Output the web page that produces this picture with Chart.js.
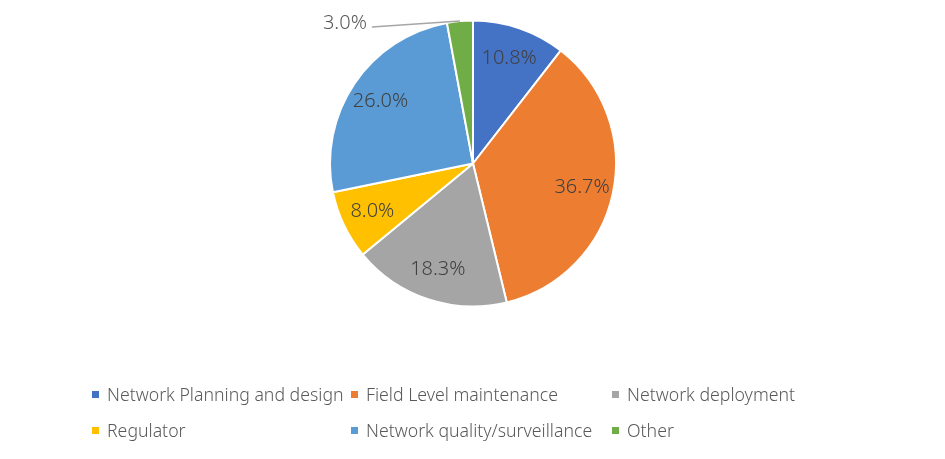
<!DOCTYPE html>
<html>
<head>
<meta charset="utf-8">
<script src="https://cdn.jsdelivr.net/npm/chart.js@4"></script>
<style>
  html, body { margin: 0; padding: 0; background: #fff; }
  #wrap { position: relative; width: 945px; height: 459px; }
  #legend {
    position: absolute; left: 92px; top: 381px;
    display: grid; grid-template-columns: 259px 261px auto;
    row-gap: 10px;
    font-family: "Noto Sans", sans-serif; font-weight: 300;
    font-size: 17.7px; color: #595959;
  }
  .item { display: flex; align-items: center; height: 26px; white-space: nowrap; }
  .box { width: 7px; height: 7px; margin-right: 8px; flex: none; }
</style>
</head>
<body>
<div id="wrap">
  <canvas id="pie" width="945" height="459"></canvas>
  <div id="legend"></div>
</div>
<script>
// chart data
const categories = ["Network Planning and design", "Field Level maintenance", "Network deployment",
                    "Regulator", "Network quality/surveillance", "Other"];
const shares = [10.8, 36.7, 18.3, 8.0, 26.0, 3.0];
const colors = ["#4472C4", "#ED7D31", "#A5A5A5", "#FFC000", "#5B9BD5", "#70AD47"];

// legend, built from the same arrays
const legendEl = document.getElementById("legend");
categories.forEach((name, i) => {
    const item = document.createElement("div");
    item.className = "item";
    item.innerHTML = '<span class="box" style="background:' + colors[i] + '"></span>' + name;
    legendEl.appendChild(item);
});

// draws the percent labels, small slices get a leader line outside
const pctLabels = {
    id: "pctLabels",
    afterDatasetsDraw(chart) {
        const ctx = chart.ctx;
        const meta = chart.getDatasetMeta(0);
        ctx.save();
        ctx.font = "300 20px 'Noto Sans', sans-serif";
        ctx.fillStyle = "#404040";
        ctx.textBaseline = "middle";
        meta.data.forEach((arc, i) => {
            const p = arc.getProps(["x", "y", "startAngle", "endAngle", "outerRadius"], true);
            const mid = (p.startAngle + p.endAngle) / 2;
            const text = shares[i].toFixed(1) + "%";
            if (shares[i] < 5) {
                const ex = p.x + Math.cos(mid) * p.outerRadius;
                const ey = p.y + Math.sin(mid) * p.outerRadius;
                const lx = ex - 88, ly = ey + 6;
                ctx.strokeStyle = "#A6A6A6";
                ctx.lineWidth = 1.5;
                ctx.beginPath();
                ctx.moveTo(ex, ey);
                ctx.lineTo(lx, ly);
                ctx.stroke();
                ctx.textAlign = "right";
                ctx.fillStyle = "#595959";
                ctx.fillText(text, lx - 5, ly - 4);
                ctx.fillStyle = "#404040";
            } else {
                const r = p.outerRadius * 0.78;
                ctx.textAlign = "center";
                ctx.fillText(text, p.x + Math.cos(mid) * r, p.y + Math.sin(mid) * r);
            }
        });
        ctx.restore();
    }
};

new Chart(document.getElementById("pie"), {
    type: "pie",
    data: {
        labels: categories,
        datasets: [{
            data: shares,
            backgroundColor: colors,
            borderColor: "#ffffff",
            borderWidth: 2
        }]
    },
    options: {
        responsive: false,
        animation: false,
        layout: { padding: { top: 19.5, bottom: 151.5, left: 1, right: 0 } },
        plugins: {
            legend: { display: false },
            tooltip: { enabled: false }
        }
    },
    plugins: [pctLabels]
});
</script>
</body>
</html>
